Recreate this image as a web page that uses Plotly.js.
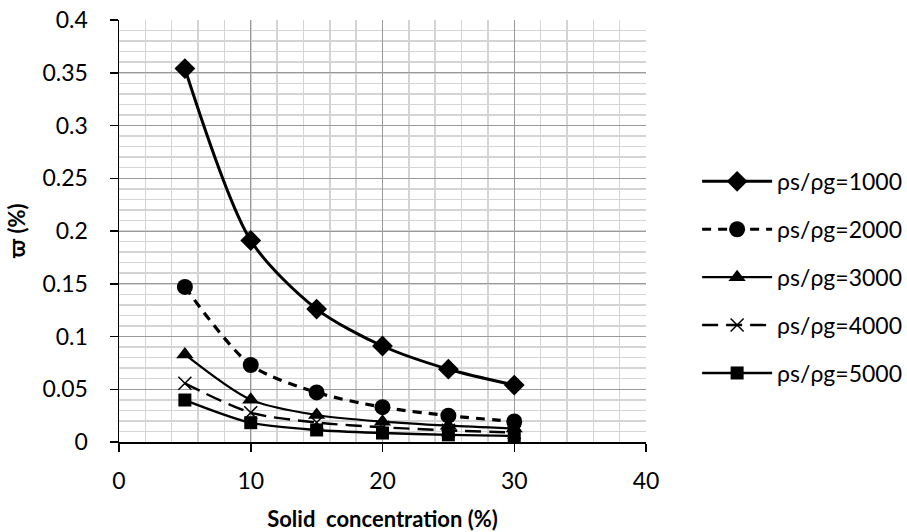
<!DOCTYPE html>
<html>
<head>
<meta charset="utf-8">
<script src="https://cdn.plot.ly/plotly-3.0.1.min.js"></script>
<style>html,body{margin:0;padding:0;background:#fff}#chart{width:907px;height:532px}</style>
</head>
<body>
<div id="chart"></div>
<script>
var concentration = [5, 10, 15, 20, 25, 30];
var seriesNames = ["ρs/ρg=1000", "ρs/ρg=2000", "ρs/ρg=3000", "ρs/ρg=4000", "ρs/ρg=5000"];
var ratio1000 = [0.354, 0.191, 0.126, 0.091, 0.069, 0.054];
var ratio2000 = [0.147, 0.073, 0.047, 0.033, 0.025, 0.0195];
var ratio3000 = [0.083, 0.040, 0.0256, 0.0193, 0.0155, 0.0128];
var ratio4000 = [0.0556, 0.0278, 0.0185, 0.0140, 0.0110, 0.0090];
var ratio5000 = [0.0398, 0.0183, 0.0114, 0.0085, 0.0068, 0.0057];
var xTickVals = [0, 10, 20, 30, 40];
var yTickVals = [0, 0.05, 0.1, 0.15, 0.2, 0.25, 0.3, 0.35, 0.4];
var yTickText = ["0", "0.05", "0.1", "0.15", "0.2", "0.25", "0.3", "0.35", "0.4"];

var FONT = "Lato, 'Open Sans', sans-serif";
function tr(y, name, sym, msize, dash, width, grp) {
  return {
    x: concentration, y: y, name: name, type: "scatter", mode: "lines+markers",
    legendgroup: grp,
    line: {color: "#000", width: width, dash: dash, shape: "spline", smoothing: 0.8},
    marker: {symbol: sym, size: msize, color: "#000", line: {color: "#000", width: sym === "x-thin" ? 1.5 : 0}}
  };
}
var data = [
  tr(ratio1000, seriesNames[0], "diamond", 16, "solid", 3, "a"),
  tr(ratio2000, seriesNames[1], "circle", 16, "9px,7px", 3.2, "b"),
  tr(ratio3000, seriesNames[2], "triangle-up", 15, "solid", 2.2, "c"),
  tr(ratio4000, seriesNames[3], "x-thin", 13, "16px,8px", 2.4, "d"),
  tr(ratio5000, seriesNames[4], "square", 13, "solid", 2.4, "e")
];
var layout = {
  width: 907, height: 532,
  margin: {l: 119, r: 261, t: 20, b: 90, autoexpand: false},
  paper_bgcolor: "#fff", plot_bgcolor: "#fff",
  font: {family: FONT, size: 23, color: "#000"},
  showlegend: true,
  legend: {x: 1.097, xanchor: "left", y: 0.39, yanchor: "middle", traceorder: "grouped",
           tracegroupgap: 15, itemwidth: 70, font: {family: FONT, size: 23, color: "#000"}},
  xaxis: {
    range: [0, 40], tickvals: xTickVals, ticktext: xTickVals.map(String),
    showline: true, linecolor: "#000", linewidth: 1.5,
    ticks: "outside", ticklen: 8, tickcolor: "#000", tickwidth: 1.5,
    showgrid: true, gridcolor: "#9a9a9a", gridwidth: 1,
    minor: {dtick: 2, showgrid: true, gridcolor: "#d4d4d4", gridwidth: 1.5},
    zeroline: false, ticklabelstandoff: 10,
    title: {text: "<b>Solid  concentration (%)</b>", font: {family: FONT, size: 22}, standoff: 24}
  },
  yaxis: {
    range: [0, 0.4], tickvals: yTickVals, ticktext: yTickText,
    showline: true, linecolor: "#000", linewidth: 1.5,
    ticks: "outside", ticklen: 8, tickcolor: "#000", tickwidth: 1.5,
    showgrid: true, gridcolor: "#9a9a9a", gridwidth: 1,
    minor: {dtick: 0.01, showgrid: true, gridcolor: "#d4d4d4", gridwidth: 1.5},
    zeroline: false, ticklabelstandoff: 17,
    title: {text: "<b>ϖ (%)</b>", font: {family: FONT, size: 22}, standoff: 10}
  }
};
Plotly.newPlot("chart", data, layout, {displayModeBar: false, staticPlot: true});
</script>
</body>
</html>
